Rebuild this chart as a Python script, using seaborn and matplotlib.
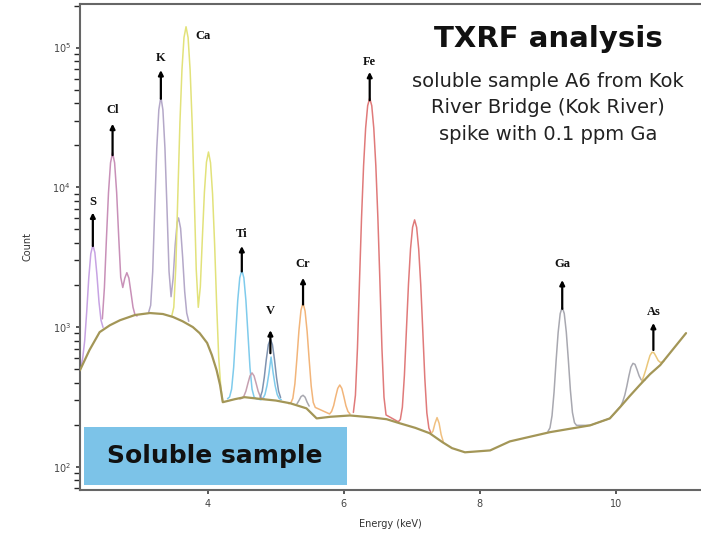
import matplotlib
matplotlib.use("Agg")
import matplotlib.pyplot as plt
import seaborn as sns
from matplotlib.patches import Rectangle

# background (continuum)
bg_kev = [2.12, 2.26, 2.41, 2.56, 2.71, 2.93, 3.15, 3.34, 3.49, 3.63, 3.78, 3.88,
          3.99, 4.06, 4.13, 4.18, 4.22, 4.40, 4.54, 4.80, 5.00, 5.21, 5.45, 5.60,
          5.80, 6.09, 6.40, 6.63, 6.82, 7.05, 7.26, 7.45, 7.59, 7.78, 8.15, 8.44,
          9.03, 9.62, 9.91, 10.06, 10.20, 10.35, 10.50, 10.65, 11.03]
bg_count = [490, 684, 920, 1030, 1120, 1220, 1260, 1240, 1180, 1100, 1000, 905,
            770, 630, 490, 385, 290, 305, 315, 305, 298, 285, 262, 222,
            228, 233, 226, 219, 205, 190, 174, 150, 136, 127, 131, 152,
            177, 198, 222, 267, 320, 385, 460, 534, 905]

# element curves: energies (keV) and counts
s_kev = [2.13, 2.16, 2.19, 2.22, 2.25, 2.28, 2.31, 2.34, 2.37, 2.40, 2.43, 2.46]
s_count = [505, 595, 795, 1290, 2240, 3350, 3870, 3410, 2370, 1520, 1120, 995]

cl_kev = [2.45, 2.48, 2.51, 2.54, 2.57, 2.60, 2.63, 2.66, 2.69, 2.72, 2.75, 2.78,
          2.81, 2.84, 2.87, 2.90, 2.93, 2.96]
cl_count = [1145, 1915, 4310, 9140, 14970, 17700, 14990, 9190, 4450, 2270, 1920,
            2240, 2450, 2240, 1770, 1390, 1220, 1200]

k_kev = [3.13, 3.16, 3.19, 3.22, 3.25, 3.28, 3.31, 3.34, 3.37, 3.40, 3.43, 3.46,
         3.49, 3.52, 3.55, 3.57, 3.60, 3.63, 3.66, 3.69, 3.72]
k_count = [1275, 1430, 2490, 7100, 19040, 35860, 44500, 35850, 19020, 7080, 2500,
           1650, 2225, 3845, 5630, 6040, 5090, 3170, 1800, 1260, 1100]

ca_kev = [3.47, 3.50, 3.53, 3.56, 3.59, 3.62, 3.65, 3.68, 3.71, 3.74, 3.77, 3.80,
          3.83, 3.86, 3.89, 3.92, 3.95, 3.98, 4.01, 4.04, 4.07, 4.10, 4.13, 4.16,
          4.19, 4.22]
ca_count = [1200, 1385, 2710, 8990, 28860, 69300, 118000, 141000, 118000, 69200,
            28800, 8860, 2580, 1385, 1940, 4330, 9230, 15130, 17900, 14980, 8950,
            3930, 1450, 610, 376, 292]

ti_kev = [4.29, 4.32, 4.35, 4.38, 4.41, 4.44, 4.47, 4.50, 4.53, 4.56, 4.59, 4.62,
          4.65, 4.68, 4.71, 4.78, 4.81, 4.84, 4.87, 4.90, 4.93, 4.96, 4.99, 5.02,
          5.05, 5.08]
ti_count = [307, 316, 360, 514, 897, 1553, 2253, 2560, 2253, 1553, 897, 514,
            360, 316, 307, 302, 308, 329, 381, 471, 610, 471, 381, 329,
            308, 302]

x1_kev = [4.47, 4.50, 4.53, 4.56, 4.59, 4.62, 4.65, 4.68, 4.71, 4.74, 4.77, 4.80, 4.83]
x1_count = [306, 309, 320, 348, 396, 447, 470, 447, 396, 348, 320, 309, 306]

v_kev = [4.77, 4.80, 4.83, 4.86, 4.89, 4.92, 4.95, 4.98, 5.01, 5.04, 5.07]
v_count = [313, 348, 436, 587, 748, 820, 748, 587, 436, 348, 313]

cr_kev = [5.19, 5.22, 5.25, 5.28, 5.31, 5.34, 5.37, 5.40, 5.43, 5.46, 5.49, 5.52,
          5.55, 5.58, 5.79, 5.82, 5.85, 5.88, 5.91, 5.94, 5.97, 6.00, 6.03, 6.06,
          6.09]
cr_count = [283, 286, 309, 392, 597, 948, 1323, 1490, 1300, 930, 585, 378,
            289, 266, 239, 249, 274, 318, 364, 385, 364, 318, 274, 249,
            239]

x2_kev = [5.31, 5.34, 5.37, 5.40, 5.43, 5.46, 5.49]
x2_count = [282, 298, 318, 325, 315, 290, 272]

fe_kev = [6.14, 6.17, 6.20, 6.23, 6.26, 6.29, 6.32, 6.35, 6.38, 6.41, 6.44, 6.47,
          6.50, 6.53, 6.56, 6.59, 6.62, 6.80, 6.83, 6.86, 6.89, 6.92, 6.95, 6.98,
          7.01, 7.04, 7.07, 7.10, 7.13, 7.16, 7.19, 7.22, 7.25, 7.28]
fe_count = [245, 325, 708, 2130, 6070, 14300, 26500, 38400, 43500, 38400, 26500,
            14290, 6060, 2120, 700, 315, 235, 210, 218, 267, 451, 963, 2034, 3626,
            5177, 5850, 5173, 3618, 2022, 947, 431, 243, 189, 175]

x3_kev = [7.28, 7.31, 7.34, 7.37, 7.40, 7.43, 7.46]
x3_count = [172, 180, 205, 225, 205, 170, 152]

ga_kev = [9.00, 9.03, 9.06, 9.09, 9.12, 9.15, 9.18, 9.21, 9.24, 9.27, 9.30, 9.33,
          9.36, 9.39, 9.42, 9.62, 9.91, 10.04, 10.07, 10.10, 10.13, 10.16, 10.19,
          10.22, 10.25, 10.28, 10.31, 10.34, 10.37, 10.40, 10.43]
ga_count = [179, 190, 232, 343, 574, 914, 1247, 1390, 1250, 919, 582, 354,
            245, 207, 198, 198, 222, 262, 272, 293, 326, 378, 447,
            517, 550, 541, 495, 448, 420, 414, 420]

as_kev = [10.38, 10.41, 10.44, 10.47, 10.50, 10.53, 10.56, 10.59, 10.62, 10.65,
          10.68, 10.71]
as_count = [408, 448, 497, 560, 626, 660, 653, 615, 577, 560, 561, 575]

# labels with arrows: element, energy, arrow base, arrow tip, label centre
lab_names = ["S", "Cl", "K", "Ti", "V", "Cr", "Fe", "Ga", "As"]
lab_kev = [2.31, 2.60, 3.31, 4.50, 4.92, 5.40, 6.38, 9.21, 10.55]
lab_base = [3800, 17000, 43000, 2500, 650, 1450, 42000, 1350, 685]
lab_tip = [6600, 28500, 69000, 3800, 950, 2250, 67000, 2170, 1070]
lab_y = [7870, 36000, 84800, 4640, 1300, 2830, 79300, 2830, 1280]

sns.set_theme(style="ticks")
plt.rcParams["font.family"] = ["DejaVu Sans"]

fig = plt.figure(figsize=(7.01, 5.34), dpi=100)
ax = fig.add_axes([0.114, 0.082, 0.886, 0.911])

sns.lineplot(x=bg_kev, y=bg_count, ax=ax, color="#a39657", lw=1.6,
             estimator=None, sort=False, zorder=3)

curves = [
    (s_kev, s_count, "#c7a3e3"),
    (cl_kev, cl_count, "#c890b8"),
    (k_kev, k_count, "#b4a8c8"),
    (ca_kev, ca_count, "#e2e27a"),
    (ti_kev, ti_count, "#7fcbec"),
    (x1_kev, x1_count, "#c6a0b0"),
    (v_kev, v_count, "#7f93b0"),
    (cr_kev, cr_count, "#f2b57a"),
    (x2_kev, x2_count, "#a8a8b0"),
    (fe_kev, fe_count, "#e07a7a"),
    (x3_kev, x3_count, "#f0c080"),
    (ga_kev, ga_count, "#a8a8b0"),
    (as_kev, as_count, "#eac77a"),
]
for xs, ys, c in curves:
    sns.lineplot(x=xs, y=ys, ax=ax, color=c, lw=1.1, estimator=None, sort=False)

ax.set_yscale("log")
ax.set_xlim(2.12, 11.25)
ax.set_ylim(68, 206000)
ax.set_xticks([4, 6, 8, 10])

for name, xk, b, t, ly in zip(lab_names, lab_kev, lab_base, lab_tip, lab_y):
    ax.annotate("", xy=(xk, t), xytext=(xk, b),
                arrowprops=dict(arrowstyle="-|>", color="black", lw=1.6,
                                mutation_scale=7, shrinkA=0, shrinkB=0))
    ax.text(xk, ly, name, ha="center", va="center", fontsize=9,
            fontweight="bold", family="Liberation Serif", color="#111111")
ax.text(3.82, 122000, "Ca", ha="left", va="center", fontsize=9,
        fontweight="bold", family="Liberation Serif", color="#111111")

ax.text(0.754, 0.928, "TXRF analysis", transform=ax.transAxes, ha="center",
        va="center", fontsize=21, fontweight="bold", family="DejaVu Sans",
        color="#111111")
ax.text(0.754, 0.786, "soluble sample A6 from Kok\nRiver Bridge (Kok River)\nspike with 0.1 ppm Ga",
        transform=ax.transAxes, ha="center", va="center", fontsize=14,
        family="DejaVu Sans", color="#222222", linespacing=1.49)

ax.add_patch(Rectangle((0.007, 0.011), 0.423, 0.119, transform=ax.transAxes,
                       facecolor="#7cc3e8", edgecolor="none", zorder=5))
ax.text(0.217, 0.07, "Soluble sample", transform=ax.transAxes, ha="center",
        va="center", fontsize=18, fontweight="bold", family="DejaVu Sans",
        color="#111111", zorder=6)

ax.set_xlabel("Energy (keV)", fontsize=7, color="#333333", labelpad=7)
ax.set_ylabel("Count", fontsize=7, color="#333333", labelpad=14)
ax.tick_params(labelsize=7, colors="#444444", length=3)
for sp in ["left", "bottom", "top"]:
    ax.spines[sp].set_color("#666666")
    ax.spines[sp].set_linewidth(1.5)
ax.spines["right"].set_visible(False)

fig.savefig("out.png", dpi=100)
